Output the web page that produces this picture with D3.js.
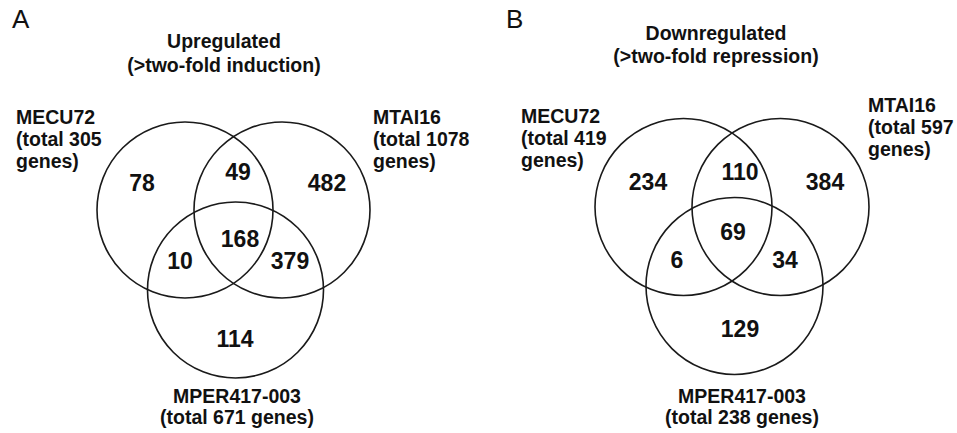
<!DOCTYPE html>
<html>
<head>
<meta charset="utf-8">
<script src="https://cdn.jsdelivr.net/npm/d3@7"></script>
<style>
  html, body { margin: 0; padding: 0; background: #ffffff; }
  svg { display: block; }
  text { font-family: "Liberation Sans", Arial, Helvetica, sans-serif; fill: #111; }
</style>
</head>
<body>
<svg id="chart" width="957" height="433"></svg>
<script>
// ---------- data ----------
const panelLetters = ["A", "B"];
const panelTitles = ["Upregulated", "Downregulated"];
const panelSubtitles = ["(>two-fold induction)", "(>two-fold repression)"];
const setNames = ["MECU72", "MTAI16", "MPER417-003"];
const totalsUp = [305, 1078, 671];
const totalsDown = [419, 597, 238];
// region order: onlyMECU, MECU∩MTAI, onlyMTAI, MECU∩MPER, all three, MTAI∩MPER, onlyMPER
const regionKeys = ["a", "ab", "b", "ac", "abc", "bc", "c"];
const countsUp = [78, 49, 482, 10, 168, 379, 114];
const countsDown = [234, 110, 384, 6, 69, 34, 129];

// ---------- layout ----------
const svg = d3.select("#chart");

const panels = [
  { letter: panelLetters[0], title: panelTitles[0], sub: panelSubtitles[0], totals: totalsUp, counts: countsUp,
    r: 88,
    letterX: 12, titleX: 224, titleY: 48, subY: 72,
    leftLabel: { x: 16, y: 124 }, rightLabel: { x: 373, y: 124 }, bottomY: 403,
    circleOffsets: [[185, 210], [282, 210], [235.5, 290]],
    regionPos: { a: [142, 191], ab: [238, 180], b: [327, 191], ac: [180, 269], abc: [240, 247], bc: [290, 269], c: [235, 347] },
    bottomX: 237 },
  { letter: panelLetters[1], title: panelTitles[1], sub: panelSubtitles[1], totals: totalsDown, counts: countsDown,
    r: 88.5,
    letterX: 506, titleX: 716, titleY: 40, subY: 63,
    leftLabel: { x: 521, y: 123 }, rightLabel: { x: 868, y: 112 }, bottomY: 403,
    circleOffsets: [[683.5, 207], [780.5, 207], [734.5, 286]],
    regionPos: { a: [648, 190], ab: [740, 180], b: [825, 190], ac: [677, 268], abc: [733, 240], bc: [785, 268], c: [740, 337] },
    bottomX: 742 }
];

const labelSize = 19.5, countSize = 23;

panels.forEach(p => {
  const g = svg.append("g");

  g.append("text").attr("x", p.letterX).attr("y", 28)
    .attr("font-size", 26).attr("font-weight", "normal").text(p.letter);

  g.append("text").attr("x", p.titleX).attr("y", p.titleY).attr("text-anchor", "middle")
    .attr("font-size", labelSize).attr("font-weight", "bold").text(p.title);
  g.append("text").attr("x", p.titleX).attr("y", p.subY).attr("text-anchor", "middle")
    .attr("font-size", labelSize).attr("font-weight", "bold").text(p.sub);

  const circleData = setNames.map((name, i) => ({ name, total: p.totals[i], cx: p.circleOffsets[i][0], cy: p.circleOffsets[i][1] }));
  g.selectAll("circle.set").data(circleData).join("circle")
    .attr("class", "set")
    .attr("cx", d => d.cx).attr("cy", d => d.cy).attr("r", p.r)
    .attr("fill", "none").attr("stroke", "#1a1a1a").attr("stroke-width", 1.6);

  const regionData = regionKeys.map((k, i) => ({ key: k, value: p.counts[i], x: p.regionPos[k][0], y: p.regionPos[k][1] }));
  g.selectAll("text.count").data(regionData).join("text")
    .attr("class", "count")
    .attr("x", d => d.x).attr("y", d => d.y).attr("text-anchor", "middle")
    .attr("font-size", countSize).attr("font-weight", "bold").text(d => d.value);

  const lineH = 22;
  const leftLines = [setNames[0], "(total " + p.totals[0], "genes)"];
  const rightLines = [setNames[1], "(total " + p.totals[1], "genes)"];
  const lt = g.append("text").attr("font-size", labelSize).attr("font-weight", "bold");
  leftLines.forEach((s, i) => lt.append("tspan").attr("x", p.leftLabel.x).attr("y", p.leftLabel.y + i * lineH).text(s));
  const rt = g.append("text").attr("font-size", labelSize).attr("font-weight", "bold");
  rightLines.forEach((s, i) => rt.append("tspan").attr("x", p.rightLabel.x).attr("y", p.rightLabel.y + i * lineH).text(s));

  g.append("text").attr("x", p.bottomX).attr("y", p.bottomY).attr("text-anchor", "middle")
    .attr("font-size", labelSize).attr("font-weight", "bold").text(setNames[2]);
  g.append("text").attr("x", p.bottomX).attr("y", p.bottomY + 21).attr("text-anchor", "middle")
    .attr("font-size", labelSize).attr("font-weight", "bold").text("(total " + p.totals[2] + " genes)");
});
</script>
</body>
</html>
